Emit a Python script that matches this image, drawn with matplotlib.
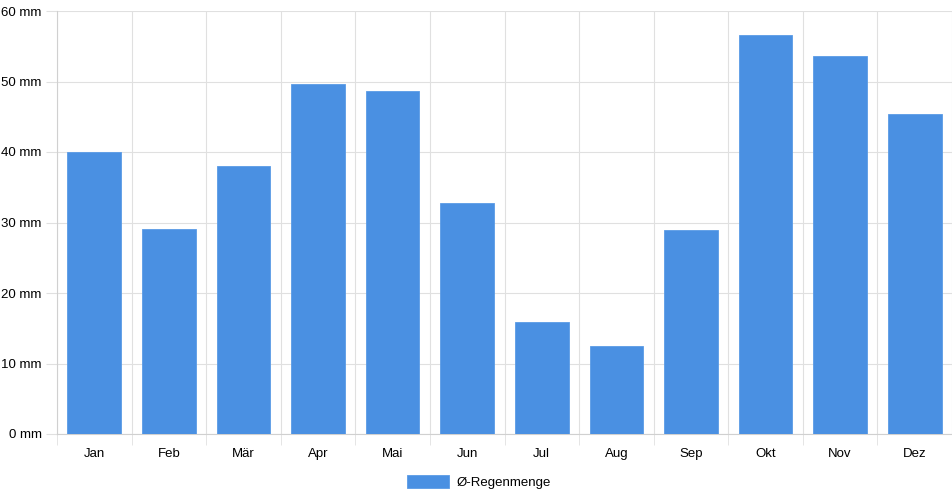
#Monatliche Regenmenge als Balkendiagramm
import numpy as np
import matplotlib.pyplot as plt

monate = ['Jan', 'Feb', 'Mär', 'Apr', 'Mai', 'Jun', 'Jul', 'Aug', 'Sep', 'Okt', 'Nov', 'Dez']
regen = [40.0, 29.1, 38.0, 49.6, 48.6, 32.8, 15.9, 12.5, 28.9, 56.6, 53.6, 45.4]
y_ticks = [0, 10, 20, 30, 40, 50, 60]

plt.rcParams['font.family'] = ['Liberation Sans', 'DejaVu Sans']
plt.rcParams['font.size'] = 9.5

fig = plt.figure(figsize=(9.52, 5.0), dpi=100)
ax = fig.add_axes([57/952, 66/500, 895/952, 423/500])

x = np.arange(len(monate))
ax.bar(x, regen, width=0.72, color='#4a90e2', edgecolor='#5a9be6', linewidth=0.6,
       label='Ø-Regenmenge', zorder=3)

ax.set_xlim(-0.5, len(monate) - 0.5)
ax.set_ylim(0, 60)
ax.set_yticks(y_ticks)
ax.set_yticklabels([f'{v} mm' for v in y_ticks])
ax.set_xticks(x)
ax.set_xticklabels(monate)
ax.set_xticks(np.arange(-0.5, len(monate)), minor=True)

ax.tick_params(axis='x', which='major', length=0, pad=10, colors='black')
ax.tick_params(axis='x', which='minor', length=8, color='#e0e0e0')
ax.tick_params(axis='y', length=8, color='#e0e0e0', pad=3)
ax.grid(axis='y', color='#e0e0e0', linewidth=0.8, zorder=0)
ax.grid(axis='x', which='minor', color='#e0e0e0', linewidth=0.8, zorder=0)
for s in ['top', 'right']:
    ax.spines[s].set_visible(False)
for s in ['left', 'bottom']:
    ax.spines[s].set_color('#d0d0d0')

fig.legend(loc='lower center', bbox_to_anchor=(0.503, -0.002), frameon=False,
           handlelength=3.2, handleheight=1.1, handletextpad=0.6)

plt.savefig('out.png')
